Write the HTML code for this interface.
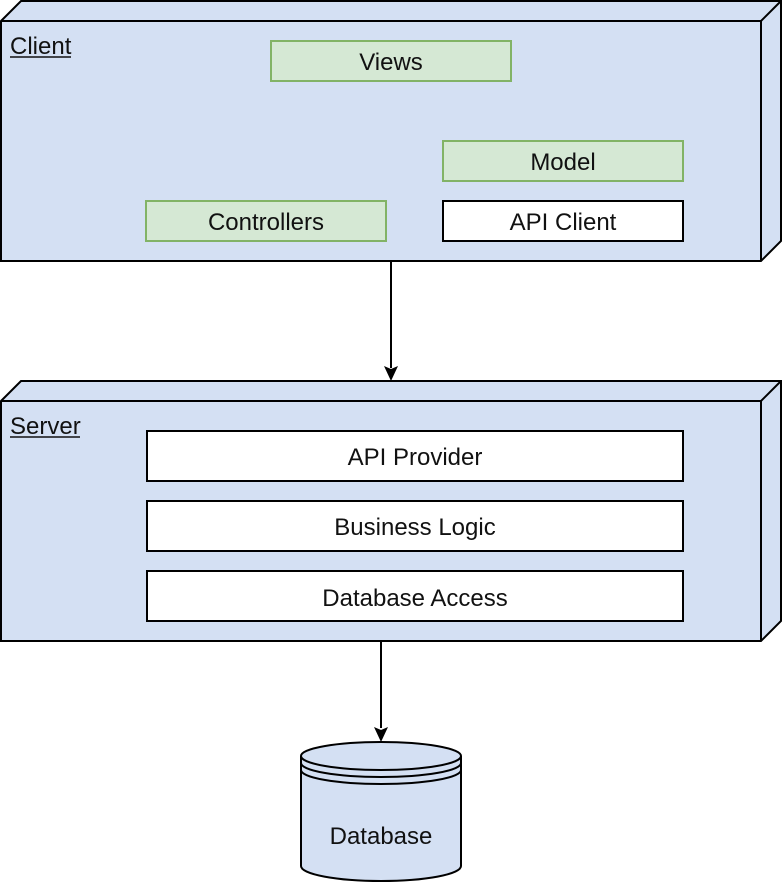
<!DOCTYPE html>
<html><head><meta charset="utf-8"><style>
html,body{margin:0;padding:0;background:#fff}
svg text{font-family:"Liberation Sans",Arial,sans-serif;font-size:24px;fill:#111}
</style></head><body>
<svg width="782" height="882" viewBox="0 0 782 882" xmlns="http://www.w3.org/2000/svg">
<g stroke="#000" stroke-width="2" fill="#d4e0f3">
<polygon points="1,21 21,1 781,1 781,241 761,261 1,261"/>
<polyline points="1,21 761,21 761,261" fill="none"/>
<line x1="761" y1="21" x2="781" y2="1"/>
<polygon points="1,401 21,381 781,381 781,621 761,641 1,641"/>
<polyline points="1,401 761,401 761,641" fill="none"/>
<line x1="761" y1="401" x2="781" y2="381"/>
</g>
<g stroke="#82b366" stroke-width="2" fill="#d5e8d4">
<rect x="271" y="41" width="240" height="40"/>
<rect x="443" y="141" width="240" height="40"/>
<rect x="146" y="201" width="240" height="40"/>
</g>
<g stroke="#000" stroke-width="2" fill="#fff">
<rect x="443" y="201" width="240" height="40"/>
<rect x="147" y="431" width="536" height="50"/>
<rect x="147" y="501" width="536" height="50"/>
<rect x="147" y="571" width="536" height="50"/>
</g>
<g stroke="#000" stroke-width="2" fill="none">
<line x1="391" y1="261" x2="391" y2="368"/>
<line x1="381" y1="641" x2="381" y2="728"/>
</g>
<polygon points="384,366 391,381 398,366 391,369" fill="#000"/>
<polygon points="374,727 381,742 388,727 381,730" fill="#000"/>
<g stroke="#000" stroke-width="2" fill="#d4e0f3">
<path d="M301,756 L301,866 A80,15 0 0 0 461,866 L461,756"/>
<ellipse cx="381" cy="756" rx="80" ry="14"/>
<path d="M301,763 A80,14 0 0 0 461,763" fill="none"/>
<path d="M301,770 A80,14 0 0 0 461,770" fill="none"/>
</g>
<g text-anchor="middle">
<text x="391" y="70">Views</text>
<text x="563" y="170">Model</text>
<text x="266" y="230">Controllers</text>
<text x="563" y="230">API Client</text>
<text x="415" y="465">API Provider</text>
<text x="415" y="535">Business Logic</text>
<text x="415" y="606">Database Access</text>
<text x="381" y="844">Database</text>
</g>
<text x="10" y="54">Client</text>
<line x1="10" y1="57" x2="71" y2="57" stroke="#111" stroke-width="1.5"/>
<text x="10" y="434">Server</text>
<line x1="10" y1="437" x2="80" y2="437" stroke="#111" stroke-width="1.5"/>
</svg>
</body></html>
